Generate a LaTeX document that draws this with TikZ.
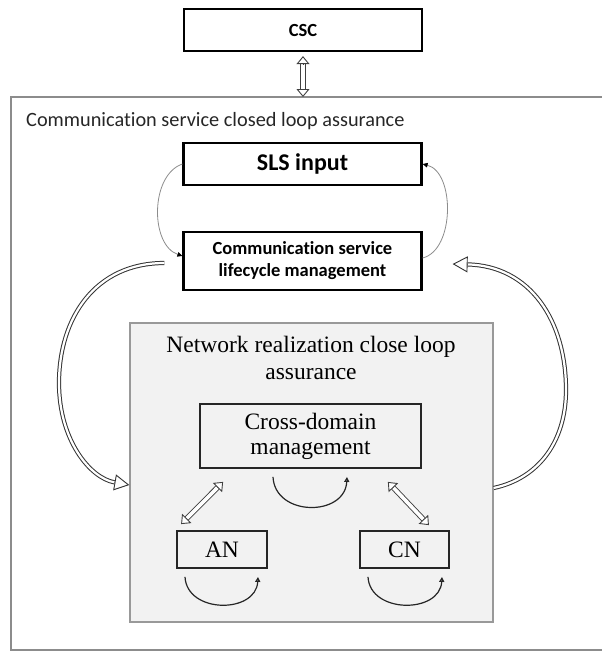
\documentclass[tikz,border=0pt]{standalone}
\usepackage{fontspec}
\setmainfont{Liberation Serif}
\newfontfamily\carl[Ligatures={NoCommon}]{Carlito}
\usetikzlibrary{arrows.meta,calc}
\begin{document}
\begin{tikzpicture}[x=1pt,y=-1pt,
  topbox/.style={draw=black, line width=2.2pt, minimum width=238pt, inner sep=0pt, align=center},
  innerbox/.style={draw=black!85, line width=1.8pt, inner sep=0pt, align=center, font=\fontsize{23.5}{25}\selectfont},
  dline/.style={draw=black!75, line width=0.9pt, double=white, double distance=3.6pt},
  curveline/.style={draw=black!80, line width=1pt, double=white, double distance=2.2pt},
  bighead/.style={draw=black!80, line width=0.9pt, -{Triangle[length=15pt,width=16pt,fill=white]}},
  midhead/.style={draw=black!75, line width=0.9pt, -{Triangle[length=8pt,width=13pt,fill=white]}},
  thinarc/.style={draw=black!45, line width=0.8pt, -{Triangle[length=5pt,width=4.5pt,color=black]}},
  loopline/.style={draw=black!85, line width=1.2pt, -{Triangle[length=5pt,width=5pt,fill=white]}}
]
\useasboundingbox (0,0) rectangle (602,657);

% outer frame
\draw[black!45, line width=1.4pt] (615,97) -| (11,650) -- (615,650);
\node[anchor=base west, inner sep=0pt, font=\carl\fontsize{20.3}{24}\selectfont, text=black!85] (title) at (26,126) {Communication service closed loop assurance};

% top boxes
\node[topbox, minimum height=42pt, font=\carl\bfseries\fontsize{18.5}{22}\selectfont] (csc) at (303,30) {CSC};
\node[topbox, minimum height=42pt, font=\carl\bfseries\fontsize{24}{28}\selectfont] (sls) at (302.5,164) {SLS input};
\node[topbox, minimum height=58pt, font=\carl\bfseries\fontsize{18.5}{22}\selectfont] (cslm) at (302.5,261) {Communication service\\lifecycle management};

% network realization box
\node[draw=black!40, fill=black!5, line width=1.3pt, minimum width=363pt, minimum height=299pt, inner sep=0pt] (net) at (311.5,472.5) {};
\node[anchor=base, align=center, inner sep=0pt, font=\fontsize{23.5}{27}\selectfont] (nettitle) at (311,379) {Network realization close loop\\assurance};

\node[innerbox, minimum width=221pt, minimum height=64pt] (cdm) at (310.5,436) {Cross-domain\\management};
\node[innerbox, minimum width=90pt, minimum height=37pt] (an) at (222,549.5) {AN};
\node[innerbox, minimum width=89pt, minimum height=37pt] (cn) at (404.5,549.5) {CN};

% CSC <-> frame
\coordinate (cscA) at ([yshift=-4pt]csc.south);
\coordinate (frameTop) at (303,97);
\draw[dline, shorten <=8pt, shorten >=8pt] (cscA) -- (frameTop);
\draw[midhead] ($(cscA)!8pt!(frameTop)$) -- (cscA);
\draw[midhead] ($(frameTop)!8pt!(cscA)$) -- (frameTop);

% thin arcs between SLS and CSLM
\draw[thinarc] (sls.west) .. controls (150,175) and (150,245) .. ([yshift=5pt]cslm.west);
\draw[thinarc] ([yshift=3pt]cslm.east) .. controls (455,250) and (455,172) .. (sls.east);

% big curved arrows
\coordinate (Lstart) at ([xshift=-18pt,yshift=-2pt]cslm.west);
\coordinate (Lend) at ([yshift=-12.5pt]net.west);
\coordinate (Lmid) at (59,383);
\draw[curveline, shorten >=15pt] (Lstart) .. controls (95,263) and (59,318) .. (Lmid) .. controls (59,440) and (90,478) .. (Lend);
\draw[bighead] ($(Lend)!15pt!(90,478)$) -- (Lend);

\coordinate (Rstart) at ([yshift=-15.5pt]net.east);
\coordinate (Rend) at ([xshift=30pt,yshift=-3pt]cslm.east);
\coordinate (Rmid) at (566,390);
\draw[curveline, shorten >=15pt] (Rstart) .. controls (540,478) and (566,440) .. (Rmid) .. controls (566,320) and (530,266) .. (Rend);
\draw[bighead] ($(Rend)!15pt!(530,266)$) -- (Rend);

% diagonal double arrows
\coordinate (anA) at ([xshift=5pt,yshift=6pt]an.north west);
\coordinate (cdA) at ([xshift=24pt,yshift=-13pt]cdm.south west);
\draw[dline, shorten <=8pt, shorten >=8pt] (anA) -- (cdA);
\draw[midhead] ($(anA)!8pt!(cdA)$) -- (anA);
\draw[midhead] ($(cdA)!8pt!(anA)$) -- (cdA);

\coordinate (cdB) at ([xshift=-34pt,yshift=-13pt]cdm.south east);
\coordinate (cnB) at ([xshift=-21pt,yshift=5pt]cn.north east);
\draw[dline, shorten <=8pt, shorten >=8pt] (cdB) -- (cnB);
\draw[midhead] ($(cdB)!8pt!(cnB)$) -- (cdB);
\draw[midhead] ($(cnB)!8pt!(cdB)$) -- (cnB);

% self loops
\draw[loopline] ($(cdm.south)+(-37.5,8)$) .. controls +(2,40) and +(-2,40) .. ($(cdm.south)+(36.5,8)$);
\draw[loopline] ($(an.south)+(-37,8)$) .. controls +(2,37) and +(-2,37) .. ($(an.south)+(36,8)$);
\draw[loopline] ($(cn.south)+(-36.5,8)$) .. controls +(2,37) and +(-2,37) .. ($(cn.south)+(37.5,8)$);
\end{tikzpicture}
\end{document}
